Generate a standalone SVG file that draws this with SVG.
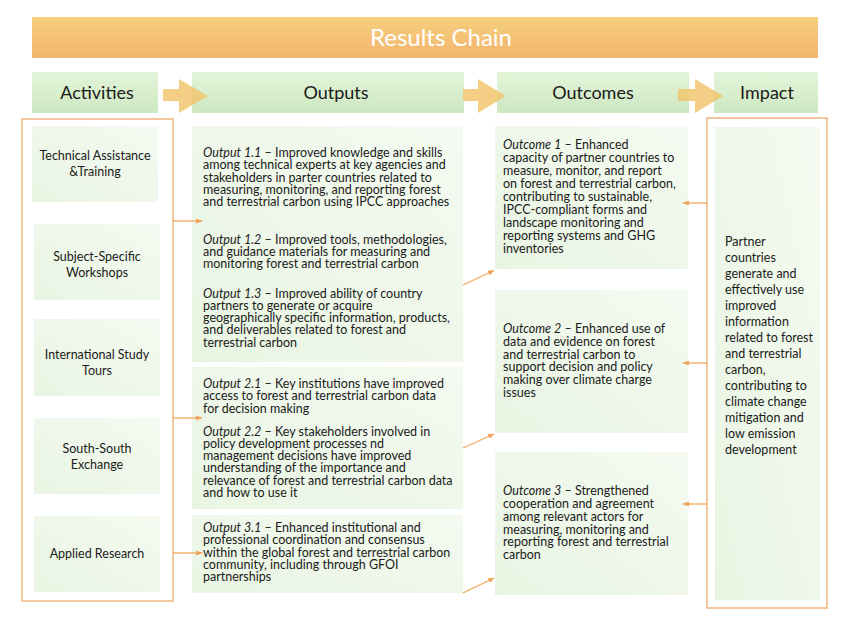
<svg xmlns="http://www.w3.org/2000/svg" width="852" height="627" viewBox="0 0 852 627">
  <defs>
    <linearGradient id="titleGrad" x1="0" y1="0" x2="0" y2="1">
      <stop offset="0" stop-color="#f6d07f"/>
      <stop offset="1" stop-color="#f2b46c"/>
    </linearGradient>
    <linearGradient id="headGrad" x1="0" y1="0" x2="0" y2="1">
      <stop offset="0" stop-color="#e4f6d9"/>
      <stop offset="1" stop-color="#cde7c2"/>
    </linearGradient>
    <linearGradient id="cellGrad" x1="0" y1="1" x2="1" y2="0">
      <stop offset="0" stop-color="#e9f5e3"/>
      <stop offset="1" stop-color="#f4faf1"/>
    </linearGradient>
    <marker id="arrow" viewBox="0 0 10 10" refX="9" refY="5" markerWidth="5" markerHeight="5" orient="auto">
      <path d="M0,1 L10,5 L0,9 z" fill="#f0a65a"/>
    </marker>
  </defs>
  <style>
    text { font-family: "Lato", "Open Sans", sans-serif; fill: #1a1a1a; }
    .title { font-size: 24px; fill: #ffffff; text-anchor: middle; }
    .head { font-size: 18px; text-anchor: middle; }
    .act { font-size: 12.5px; text-anchor: middle; }
    .body { font-size: 12.5px; }
    .it { font-style: italic; }
    .head-box { fill: url(#headGrad); }
    .cell { fill: url(#cellGrad); }
    .frame { fill: none; stroke: #f0b47c; stroke-width: 1.5; }
    .chevron { fill: #f2c56e; opacity: 0.85; }
    .link { fill: none; stroke: #f0a65a; stroke-width: 1.3; marker-end: url(#arrow); }
  </style>

  <rect width="852" height="627" fill="#ffffff"/>

  <!-- banner -->
  <g id="title">
    <rect x="32" y="17" width="786" height="41" fill="url(#titleGrad)"/>
    <text class="title" x="441" y="46">Results Chain</text>
  </g>

  <!-- column headings -->
  <g id="head-activities">
    <rect class="head-box" x="32" y="72" width="126" height="41"/>
    <text class="head" x="97" y="99">Activities</text>
  </g>
  <g id="head-outputs">
    <rect class="head-box" x="192" y="72" width="272" height="41"/>
    <text class="head" x="336" y="99">Outputs</text>
  </g>
  <g id="head-outcomes">
    <rect class="head-box" x="497" y="72" width="192" height="41"/>
    <text class="head" x="593" y="99">Outcomes</text>
  </g>
  <g id="head-impact">
    <rect class="head-box" x="714" y="72" width="104" height="41"/>
    <text class="head" x="767" y="99">Impact</text>
  </g>

  <!-- chevrons between headings -->
  <g id="chevrons">
    <path class="chevron" d="M163,89 H179 V79 L208,96 L179,113 V101 H163 z"/>
    <path class="chevron" d="M463,89 H478 V79 L506,96 L478,113 V101 H463 z"/>
    <path class="chevron" d="M678,89 H695 V79 L723,96 L695,113 V101 H678 z"/>
  </g>

  <!-- activities column -->
  <g id="activities-frame">
    <rect class="frame" x="22" y="119" width="151" height="482"/>
  </g>
  <g id="act-technical">
    <rect class="cell" x="32" y="126" width="126" height="76"/>
    <text class="act" x="95" y="160">Technical Assistance<tspan x="95" dy="16">&amp;Training</tspan></text>
  </g>
  <g id="act-workshops">
    <rect class="cell" x="34" y="224" width="126" height="76"/>
    <text class="act" x="97" y="261">Subject-Specific<tspan x="97" dy="16">Workshops</tspan></text>
  </g>
  <g id="act-tours">
    <rect class="cell" x="34" y="319" width="126" height="77"/>
    <text class="act" x="97" y="359">International Study<tspan x="97" dy="16">Tours</tspan></text>
  </g>
  <g id="act-exchange">
    <rect class="cell" x="34" y="418" width="126" height="76"/>
    <text class="act" x="97" y="453">South-South<tspan x="97" dy="16">Exchange</tspan></text>
  </g>
  <g id="act-research">
    <rect class="cell" x="34" y="516" width="126" height="76"/>
    <text class="act" x="97" y="558">Applied Research</text>
  </g>

  <!-- outputs column -->
  <g id="output-1">
    <rect class="cell" x="192" y="126" width="271" height="236"/>
    <text class="body" x="203" y="157"><tspan class="it">Output 1.1</tspan> – Improved knowledge and skills<tspan x="203" dy="12.25">among technical experts at key agencies and</tspan><tspan x="203" dy="12.25">stakeholders in parter countries related to</tspan><tspan x="203" dy="12.25">measuring, monitoring, and reporting forest</tspan><tspan x="203" dy="12.25">and terrestrial carbon using IPCC approaches</tspan></text>
    <text class="body" x="203" y="243.5"><tspan class="it">Output 1.2</tspan> – Improved tools, methodologies,<tspan x="203" dy="12.25">and guidance materials for measuring and</tspan><tspan x="203" dy="12.25">monitoring forest and terrestrial carbon</tspan></text>
    <text class="body" x="203" y="297.5"><tspan class="it">Output 1.3</tspan> – Improved ability of country<tspan x="203" dy="12.25">partners to generate or acquire</tspan><tspan x="203" dy="12.25">geographically specific information, products,</tspan><tspan x="203" dy="12.25">and deliverables related to forest and</tspan><tspan x="203" dy="12.25">terrestrial carbon</tspan></text>
  </g>
  <g id="output-2">
    <rect class="cell" x="192" y="367" width="271" height="142"/>
    <text class="body" x="203" y="388"><tspan class="it">Output 2.1</tspan> – Key institutions have improved<tspan x="203" dy="12.25">access to forest and terrestrial carbon data</tspan><tspan x="203" dy="12.25">for decision making</tspan></text>
    <text class="body" x="203" y="435.5"><tspan class="it">Output 2.2</tspan> – Key stakeholders involved in<tspan x="203" dy="12.25">policy development processes nd</tspan><tspan x="203" dy="12.25">management decisions have improved</tspan><tspan x="203" dy="12.25">understanding of the importance and</tspan><tspan x="203" dy="12.25">relevance of forest and terrestrial carbon data</tspan><tspan x="203" dy="12.25">and how to use it</tspan></text>
  </g>
  <g id="output-3">
    <rect class="cell" x="192" y="515" width="271" height="78"/>
    <text class="body" x="203" y="532"><tspan class="it">Output 3.1</tspan> – Enhanced institutional and<tspan x="203" dy="12.25">professional coordination and consensus</tspan><tspan x="203" dy="12.25">within the global forest and terrestrial carbon</tspan><tspan x="203" dy="12.25">community, including through GFOI</tspan><tspan x="203" dy="12.25">partnerships</tspan></text>
  </g>

  <!-- outcomes column -->
  <g id="outcome-1">
    <rect class="cell" x="495" y="126" width="193" height="143"/>
    <text class="body" x="503" y="149"><tspan class="it">Outcome 1</tspan> –  Enhanced<tspan x="503" dy="12.95">capacity of partner countries to</tspan><tspan x="503" dy="12.95">measure, monitor, and report</tspan><tspan x="503" dy="12.95">on forest and terrestrial carbon,</tspan><tspan x="503" dy="12.95">contributing to sustainable,</tspan><tspan x="503" dy="12.95">IPCC-compliant forms and</tspan><tspan x="503" dy="12.95">landscape monitoring and</tspan><tspan x="503" dy="12.95">reporting systems and GHG</tspan><tspan x="503" dy="12.95">inventories</tspan></text>
  </g>
  <g id="outcome-2">
    <rect class="cell" x="495" y="290" width="193" height="143"/>
    <text class="body" x="503" y="333"><tspan class="it">Outcome 2</tspan> –  Enhanced use of<tspan x="503" dy="12.8">data and evidence on forest</tspan><tspan x="503" dy="12.8">and terrestrial carbon to</tspan><tspan x="503" dy="12.8">support decision and policy</tspan><tspan x="503" dy="12.8">making over climate charge</tspan><tspan x="503" dy="12.8">issues</tspan></text>
  </g>
  <g id="outcome-3">
    <rect class="cell" x="495" y="452" width="193" height="143"/>
    <text class="body" x="503" y="495"><tspan class="it">Outcome 3</tspan> –  Strengthened<tspan x="503" dy="12.85">cooperation and agreement</tspan><tspan x="503" dy="12.85">among relevant actors for</tspan><tspan x="503" dy="12.85">measuring, monitoring and</tspan><tspan x="503" dy="12.85">reporting forest and terrestrial</tspan><tspan x="503" dy="12.85">carbon</tspan></text>
  </g>

  <!-- impact column -->
  <g id="impact">
    <rect class="frame" x="707" y="118" width="120" height="490"/>
    <rect class="cell" x="715" y="127" width="105" height="473"/>
    <text class="body" x="725" y="246">Partner<tspan x="725" dy="16">countries</tspan><tspan x="725" dy="16">generate and</tspan><tspan x="725" dy="16">effectively use</tspan><tspan x="725" dy="16">improved</tspan><tspan x="725" dy="16">information</tspan><tspan x="725" dy="16">related to forest</tspan><tspan x="725" dy="16">and terrestrial</tspan><tspan x="725" dy="16">carbon,</tspan><tspan x="725" dy="16">contributing to</tspan><tspan x="725" dy="16">climate change</tspan><tspan x="725" dy="16">mitigation and</tspan><tspan x="725" dy="16">low emission</tspan><tspan x="725" dy="16">development</tspan></text>
  </g>

  <!-- connectors -->
  <g id="connectors">
    <line class="link" x1="173" y1="221" x2="202" y2="221"/>
    <line class="link" x1="173" y1="418" x2="202" y2="418"/>
    <line class="link" x1="173" y1="553" x2="202" y2="553"/>
    <line class="link" x1="463" y1="285" x2="494" y2="270.5"/>
    <line class="link" x1="463" y1="448" x2="494" y2="434"/>
    <line class="link" x1="463" y1="593" x2="494" y2="578"/>
    <line class="link" x1="707" y1="203" x2="683" y2="203"/>
    <line class="link" x1="707" y1="363" x2="683" y2="363"/>
    <line class="link" x1="707" y1="504" x2="683" y2="504"/>
  </g>
</svg>
